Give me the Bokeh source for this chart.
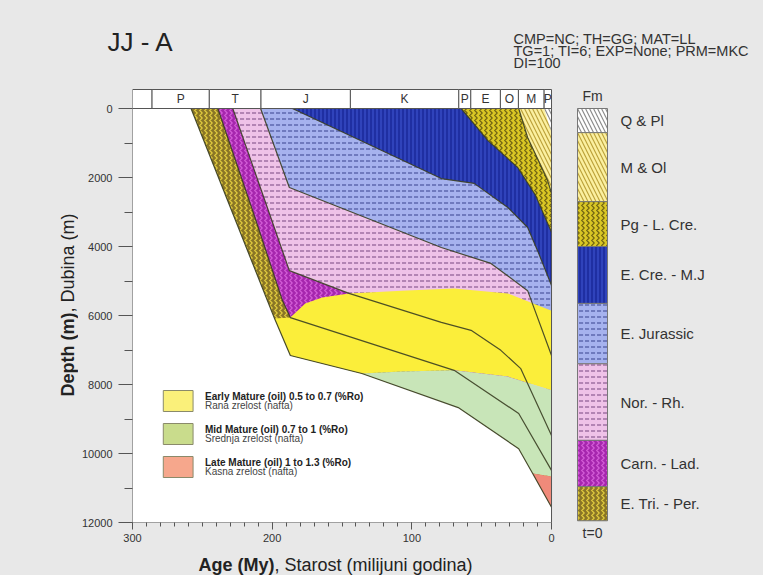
import math
from bokeh.plotting import figure
from bokeh.layouts import row, column
from bokeh.models import Range1d, FixedTicker, ColumnDataSource
from bokeh.core.properties import value
from bokeh.embed import file_html
from bokeh.resources import INLINE

# ---------------- DATA ----------------
# geologic time scale header (My)
period_bounds = [300, 286, 245, 208, 144, 66.4, 57.8, 36.6, 23.7, 5.3, 0]
period_labels = ["", "P", "T", "J", "K", "P", "E", "O", "M", "P"]

# formations, youngest first
fm_names = ["Q & Pl", "M & Ol", "Pg - L. Cre.", "E. Cre. - M.J", "E. Jurassic",
            "Nor. - Rh.", "Carn. - Lad.", "E. Tri. - Per."]
fm_tops_t0 = [0, 700, 2700, 4000, 5650, 7400, 9620, 10960]
fm_bases_t0 = [700, 2700, 4000, 5650, 7400, 9620, 10960, 11950]

# burial paths of formation bases: age (My) and depth (m)
base_qpl_age = [5.3, 0]
base_qpl_depth = [0, 700]
base_mol_age = [23.5, 17.1, 2.8, 0]
base_mol_depth = [0, 840, 2090, 2450]
base_pg_age = [64.7, 45.5, 24.2, 11.4, 0]
base_pg_depth = [0, 930, 1710, 2520, 3590]
base_ecre_age = [185.5, 78.9, 55.4, 31.3, 17.1, 10.0, 0]
base_ecre_depth = [0, 2030, 2170, 2870, 3450, 4120, 5130]
base_ejur_age = [208.3, 187.7, 78.9, 43.4, 17.1, 0]
base_ejur_depth = [0, 2290, 4030, 4490, 5280, 7160]
base_nor_age = [228.2, 187.7, 145.0, 78.9, 57.6, 36.3, 22.0, 0]
base_nor_depth = [0, 4700, 5360, 6200, 6430, 7010, 7540, 9480]
base_carn_age = [238.9, 214.0, 192.7, 187.0, 69.7, 23.5, 0]
base_carn_depth = [0, 2960, 5560, 6060, 7590, 8840, 10490]
base_etri_age = [258.1, 198.3, 187.0, 135.8, 66.8, 23.5, 13.5, 0]
base_etri_depth = [0, 6090, 7160, 7680, 8670, 9860, 10580, 11560]

# maturity (%Ro) iso-lines
ro05_age = [198.3, 187.0, 176.3, 164.2, 145.0, 107.3, 69.7, 31.3, 0]
ro05_depth = [6090, 6060, 5650, 5480, 5360, 5280, 5220, 5360, 5860]
ro07_age = [135.8, 107.3, 69.7, 31.3, 0]
ro07_depth = [7680, 7620, 7590, 7770, 8170]
ro10_age = [13.5, 0]
ro10_depth = [10580, 10670]

legend_titles = ["Early Mature (oil) 0.5 to 0.7 (%Ro)", "Mid Mature (oil) 0.7 to 1 (%Ro)",
                 "Late Mature (oil) 1 to 1.3 (%Ro)"]
legend_sub = ["Rana zrelost (nafta)", "Srednja zrelost (nafta)", "Kasna zrelost (nafta)"]
params = ["CMP=NC; TH=GG; MAT=LL", "TG=1; TI=6; EXP=None; PRM=MKC", "DI=100"]

# ---------------- LAYOUT ----------------
TOTAL_W, TOTAL_H = 763, 575
TOP_H = 85            # title strip
LEFT_W = 78           # y-label strip
MAIN_R = 555          # right edge of main figure
BOT_H = 28            # x-label strip
X300, X0 = 129, 551   # page px of age 300 / 0
Y0, Y12 = 108, 522    # page px of depth 0 / 12000

FONT = "Liberation Sans"
BG = "#e8e8e8"
TXT = "#333333"
STY = {"background-color": BG}


def age_at(px):
    return (X0 - px) * 300.0 / (X0 - X300)


def depth_at(py):
    return (py - Y0) * 12000.0 / (Y12 - Y0)


def bare(fig):
    fig.background_fill_color = BG
    fig.border_fill_color = BG
    fig.outline_line_color = None
    fig.grid.visible = False
    return fig


def plain(w, h, xr, yr):
    return bare(figure(width=w, height=h, x_range=xr, y_range=yr,
                       x_axis_location=None, y_axis_location=None,
                       output_backend="svg", toolbar_location=None, min_border=0))


def txt(fig, x, y, t, size, style="normal", color=TXT, align="left", angle=0.0):
    fig.text(x=x, y=y, text=t, text_font=value(FONT), text_font_size=size,
             text_font_style=style, text_color=color, text_align=align,
             text_baseline="middle", angle=angle)


MID_H = TOTAL_H - TOP_H - BOT_H

# ---- top strip: title + run parameters
top = plain(TOTAL_W, TOP_H, Range1d(0, TOTAL_W), Range1d(TOP_H, 0))
txt(top, [107], [41], ["JJ - A"], "26px", color="#222222")
txt(top, [513] * 3, [38, 50, 62], params, "14.5px")

# ---- left strip: depth label
left = plain(LEFT_W, MID_H, Range1d(0, LEFT_W), Range1d(TOP_H + MID_H, TOP_H))
txt(left, [67], [312], ["Depth (m)"], "18px", style="bold", color="#222222",
    align="right", angle=math.pi / 2)
txt(left, [67], [312], [", Dubina (m)"], "18px", color="#222222",
    align="left", angle=math.pi / 2)

# ---- main burial-history plot
MAIN_W = MAIN_R - LEFT_W
p = bare(figure(width=MAIN_W, height=MID_H,
                x_range=Range1d(age_at(X300), age_at(MAIN_R)),
                y_range=Range1d(depth_at(Y12), depth_at(TOP_H)),
                output_backend="svg", toolbar_location=None,
                min_border_left=X300 - LEFT_W, min_border_right=0, min_border_top=0,
                min_border_bottom=(TOP_H + MID_H) - Y12))

p.xaxis.ticker = FixedTicker(ticks=[0, 100, 200, 300], minor_ticks=list(range(0, 301, 10)))
p.yaxis.ticker = FixedTicker(ticks=list(range(0, 12001, 2000)),
                             minor_ticks=list(range(1000, 12000, 2000)))
for ax in (p.xaxis, p.yaxis):
    ax.axis_line_color = None
    ax.major_tick_line_color = "#555555"
    ax.minor_tick_line_color = "#555555"
    ax.major_tick_in = 0
    ax.minor_tick_in = 0
    ax.major_label_text_font = FONT
    ax.major_label_text_font_size = "11px"
    ax.major_label_text_color = TXT
p.xaxis.major_tick_out = 7
p.xaxis.minor_tick_out = 4
p.xaxis.major_label_standoff = 4
p.yaxis.major_tick_out = 14
p.yaxis.minor_tick_out = 8
p.yaxis.major_label_standoff = 6

# plot area
p.quad(left=300, right=0, top=0, bottom=12000, fill_color="white", line_color=None)

# formation styles (youngest first)
fm_fill = ["#ffffff", "#fbf0a0", "#d9c624", "#1f2fa2", "#a6b2ee", "#efc2e8", "#a626ae", "#8a7626"]
fm_hatch = ["\\", "\\", ">", "|", '"', '"', ">", ">"]
fm_hcol = ["#8c8c8c", "#bca23a", "#6e6212", "#3a50cc", "#4a549e", "#8a5a90", "#d45ed8", "#e2cc3e"]
fm_hscale = [8, 8, 5, 4, 6, 6, 5, 5]

paths_age = [base_qpl_age, base_mol_age, base_pg_age, base_ecre_age, base_ejur_age,
             base_nor_age, base_carn_age, base_etri_age]
paths_depth = [base_qpl_depth, base_mol_depth, base_pg_depth, base_ecre_depth, base_ejur_depth,
               base_nor_depth, base_carn_depth, base_etri_depth]

xs, ys = [], []
for a, d in zip(paths_age, paths_depth):
    xs.append(list(a) + [a[-1]])
    ys.append(list(d) + [0])
order = list(range(len(fm_names)))[::-1]   # oldest first
layer_src = ColumnDataSource(dict(
    xs=[xs[i] for i in order], ys=[ys[i] for i in order],
    fill=[fm_fill[i] for i in order], hatch=[fm_hatch[i] for i in order],
    hcol=[fm_hcol[i] for i in order], hscale=[fm_hscale[i] for i in order]))
p.patches("xs", "ys", source=layer_src, fill_color="fill", hatch_pattern="hatch",
          hatch_color="hcol", hatch_scale="hscale", hatch_weight=1.2, line_color=None)


def between(ages, depths, lo, hi):
    """points of a path strictly between two ages, in increasing age order"""
    pts = sorted((a, d) for a, d in zip(ages, depths) if lo < a < hi)
    return [q[0] for q in pts], [q[1] for q in pts]


# maturity zones
ba, bd = between(base_etri_age, base_etri_depth, ro07_age[0], ro05_age[0])
yel_x = ro05_age + ro07_age[::-1] + ba
yel_y = ro05_depth + ro07_depth[::-1] + bd
ba, bd = between(base_etri_age, base_etri_depth, ro10_age[0], ro07_age[0])
grn_x = ro07_age + ro10_age[::-1] + ba
grn_y = ro07_depth + ro10_depth[::-1] + bd
ba, bd = between(base_etri_age, base_etri_depth, -1, ro10_age[0])
red_x = ro10_age + [base_etri_age[-1]] + ba
red_y = ro10_depth + [base_etri_depth[-1]] + bd
p.patches([yel_x, grn_x, red_x], [yel_y, grn_y, red_y],
          fill_color=["#fbee3a", "#c8e5b8", "#f08a7a"], line_color=None)

# horizon lines
p.multi_line(paths_age[1:], paths_depth[1:], line_color="#3a3e22", line_width=1.2, line_alpha=0.9)

# plot area outline
p.quad(left=300, right=0, top=0, bottom=12000, fill_color=None, line_color="#555555", line_width=1)

# header time strip
strip_top = depth_at(89)
p.quad(left=period_bounds[:-1], right=period_bounds[1:], top=strip_top, bottom=0,
       fill_color="white", line_color="#555555", line_width=1)
mids = [(period_bounds[i] + period_bounds[i + 1]) / 2 for i in range(len(period_labels))]
txt(p, mids, [strip_top / 2] * len(mids), period_labels, "12px", align="center")

# maturity legend
box_tops = [390, 423, 456]
p.quad(left=age_at(160), right=age_at(190), top=[depth_at(t) for t in box_tops],
       bottom=[depth_at(t + 21) for t in box_tops],
       fill_color=["#faf07a", "#c9dc8c", "#f6a78c"], line_color="#8a8a6a", line_width=1)
txt(p, [age_at(202)] * 3, [depth_at(t + 6) for t in box_tops], legend_titles, "10px",
    style="bold", color="#222222")
txt(p, [age_at(202)] * 3, [depth_at(t + 15) for t in box_tops], legend_sub, "10px",
    color="#444444")

# ---- right strip: present-day formation column
RIGHT_W = TOTAL_W - MAIN_R
right = plain(RIGHT_W, MID_H, Range1d(age_at(MAIN_R), age_at(TOTAL_W)),
              Range1d(depth_at(TOP_H + MID_H), depth_at(TOP_H)))
cl, cr = age_at(577), age_at(607)
right.quad(left=cl, right=cr, top=fm_tops_t0, bottom=fm_bases_t0,
           fill_color=fm_fill, hatch_pattern=fm_hatch, hatch_color=fm_hcol,
           hatch_scale=fm_hscale, hatch_weight=1.2, line_color="#777777", line_width=1)
txt(right, [age_at(620)] * len(fm_names),
    [(t + b) / 2 for t, b in zip(fm_tops_t0, fm_bases_t0)], fm_names, "15px")
txt(right, [(cl + cr) / 2], [depth_at(95)], ["Fm"], "14px", align="center")
txt(right, [(cl + cr) / 2], [depth_at(532)], ["t=0"], "14px", align="center")

# ---- bottom strip: age label
bottom = plain(TOTAL_W, BOT_H, Range1d(0, TOTAL_W), Range1d(TOTAL_H, TOTAL_H - BOT_H))
txt(bottom, [274], [564], ["Age (My)"], "18px", style="bold", color="#222222", align="right")
txt(bottom, [274], [564], [", Starost (milijuni godina)"], "18px", color="#222222")

middle = row(left, column(p, spacing=0, styles=STY), right, spacing=0, styles=STY)
layout = column(top, middle, bottom, spacing=0, styles=STY)
open("out.html", "w").write(file_html(layout, INLINE))
